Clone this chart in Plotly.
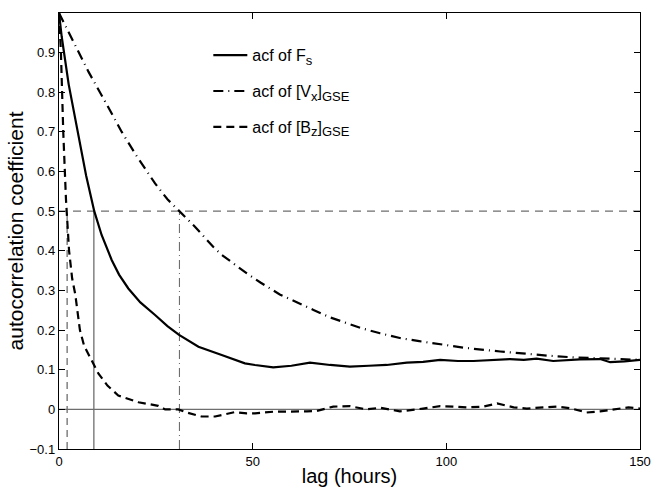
import plotly.graph_objects as go

# ---- data ----
lag_fs = [0, 0.7, 2.5, 4.8, 7, 9.1, 11, 13.6, 15.5, 17.9, 21, 24.8, 28, 31, 36, 42, 48, 50.6,
          55.3, 60, 64.8, 70, 75.1, 80, 84.6, 89.8, 94, 98.4, 103, 107, 112, 116.4, 120, 123.3,
          127.6, 131, 134.5, 139.7, 142.3, 146, 150]
acf_fs = [1.0, 0.94, 0.82, 0.70, 0.59, 0.50, 0.44, 0.377, 0.34, 0.305, 0.27, 0.238, 0.21, 0.188,
          0.158, 0.137, 0.116, 0.112, 0.106, 0.110, 0.118, 0.112, 0.108, 0.110, 0.112, 0.118, 0.120,
          0.125, 0.122, 0.122, 0.125, 0.127, 0.125, 0.128, 0.122, 0.124, 0.126, 0.127, 0.119, 0.121,
          0.125]

lag_vx = [0, 3, 7.6, 12, 16.2, 20, 24.8, 28, 31, 35.1, 39.8, 42, 48.5, 52, 57, 60, 65.7, 70, 74.3,
          78, 82.9, 88, 93, 98.4, 105, 113.9, 120, 126.8, 133, 139.7, 145, 150]
acf_vx = [1.0, 0.94, 0.852, 0.775, 0.70, 0.64, 0.57, 0.53, 0.50, 0.461, 0.41, 0.39, 0.343, 0.32,
          0.29, 0.276, 0.251, 0.232, 0.217, 0.205, 0.192, 0.180, 0.172, 0.165, 0.155, 0.146, 0.140,
          0.135, 0.131, 0.129, 0.127, 0.125]

lag_bz = [0, 0.5, 1.1, 1.8, 2.6, 3.4, 4.2, 5.4, 6.5, 7.6, 9, 10.2, 12.5, 15.3, 20.5, 25.6, 27.4,
          30.8, 33, 36.8, 40.3, 43, 45.4, 48.5, 50.6, 55.3, 58, 64, 66.5, 70.8, 75.1, 79.4, 82.9,
          88, 94, 98.4, 101.8, 105.3, 109.6, 113.1, 117.4, 120.8, 125, 128.5, 131.9, 136.2, 139.7,
          143.6, 147, 150]
acf_bz = [1.0, 0.90, 0.70, 0.53, 0.40, 0.33, 0.29, 0.20, 0.16, 0.14, 0.115, 0.09, 0.06, 0.035,
          0.018, 0.009, 0.0, 0.0, -0.008, -0.018, -0.018, -0.012, -0.007, -0.01, -0.01, -0.006,
          -0.006, -0.005, -0.004, 0.007, 0.008, 0.0, 0.004, -0.005, 0.002, 0.008, 0.007, 0.005,
          0.007, 0.015, 0.005, 0.002, 0.005, 0.007, 0.003, -0.008, -0.005, 0.001, 0.005, 0.002]

half_level = 0.5
half_lag_bz = 2.1
half_lag_fs = 9.0
half_lag_vx = 31.1

x_ticks = [0, 50, 100, 150]
y_ticks = [-0.1, 0, 0.1, 0.2, 0.3, 0.4, 0.5, 0.6, 0.7, 0.8, 0.9]
y_tick_labels = ["\u22120.1", "0", "0.1", "0.2", "0.3", "0.4", "0.5", "0.6", "0.7", "0.8", "0.9"]

FONT = "Liberation Sans, Arial, Helvetica, sans-serif"
GRAY = "#6e6e6e"


def sub(t):
    return '<sub><span style="font-size:13px">' + t + '</span></sub>'


fig = go.Figure()

# reference lines
fig.add_trace(go.Scatter(x=[0, 150], y=[0, 0], mode="lines", showlegend=False,
                         line=dict(color=GRAY, width=1.2), hoverinfo="skip"))
fig.add_trace(go.Scatter(x=[0, 150], y=[half_level, half_level], mode="lines", showlegend=False,
                         line=dict(color=GRAY, width=1.3, dash="8px,6px"), hoverinfo="skip"))
fig.add_trace(go.Scatter(x=[half_lag_bz, half_lag_bz], y=[-0.1, half_level], mode="lines",
                         showlegend=False, line=dict(color=GRAY, width=1.3, dash="7px,5px"),
                         hoverinfo="skip"))
fig.add_trace(go.Scatter(x=[half_lag_fs, half_lag_fs], y=[-0.1, half_level], mode="lines",
                         showlegend=False, line=dict(color=GRAY, width=1.3), hoverinfo="skip"))
fig.add_trace(go.Scatter(x=[half_lag_vx, half_lag_vx], y=[-0.1, half_level], mode="lines",
                         showlegend=False, line=dict(color=GRAY, width=1.1, dash="9px,4px,1px,4px"),
                         hoverinfo="skip"))

# acf curves
fig.add_trace(go.Scatter(x=lag_fs, y=acf_fs, mode="lines", name="acf of F" + sub("s"),
                         legendgroup="a", line=dict(color="black", width=2.2)))
fig.add_trace(go.Scatter(x=lag_vx, y=acf_vx, mode="lines",
                         name="acf of [V" + sub("x") + "]" + sub("GSE"),
                         legendgroup="b", line=dict(color="black", width=2.2, dash="10px,5px,1px,5px")))
fig.add_trace(go.Scatter(x=lag_bz, y=acf_bz, mode="lines",
                         name="acf of [B" + sub("z") + "]" + sub("GSE"),
                         legendgroup="c", line=dict(color="black", width=2.2, dash="8px,5px")))

axis_common = dict(showline=True, linecolor="black", linewidth=1.4, mirror="ticks",
                   ticks="inside", ticklen=6, tickcolor="black", tickwidth=1.1,
                   showgrid=False, zeroline=False, automargin=False,
                   tickfont=dict(family=FONT, size=13, color="black"))

fig.update_layout(
    width=661, height=487,
    margin=dict(l=59, r=21, t=13, b=38),
    paper_bgcolor="white", plot_bgcolor="white",
    font=dict(family=FONT, color="black"),
    xaxis=dict(range=[0, 150], tickvals=x_ticks,
               title=dict(text="lag (hours)", font=dict(family=FONT, size=20), standoff=13),
               **axis_common),
    yaxis=dict(range=[-0.1, 1.0], tickvals=y_ticks, ticktext=y_tick_labels,
               title=dict(text="autocorrelation coefficient", font=dict(family=FONT, size=21),
                          standoff=0),
               **axis_common),
    legend=dict(x=0.257, y=0.942, xanchor="left", yanchor="top",
                bgcolor="rgba(0,0,0,0)", font=dict(family=FONT, size=16),
                traceorder="grouped", tracegroupgap=12, itemwidth=34),
)

fig.write_html("out.html", config={"displayModeBar": False},
               post_script="document.body.style.margin='0';document.body.style.overflow='hidden';")
